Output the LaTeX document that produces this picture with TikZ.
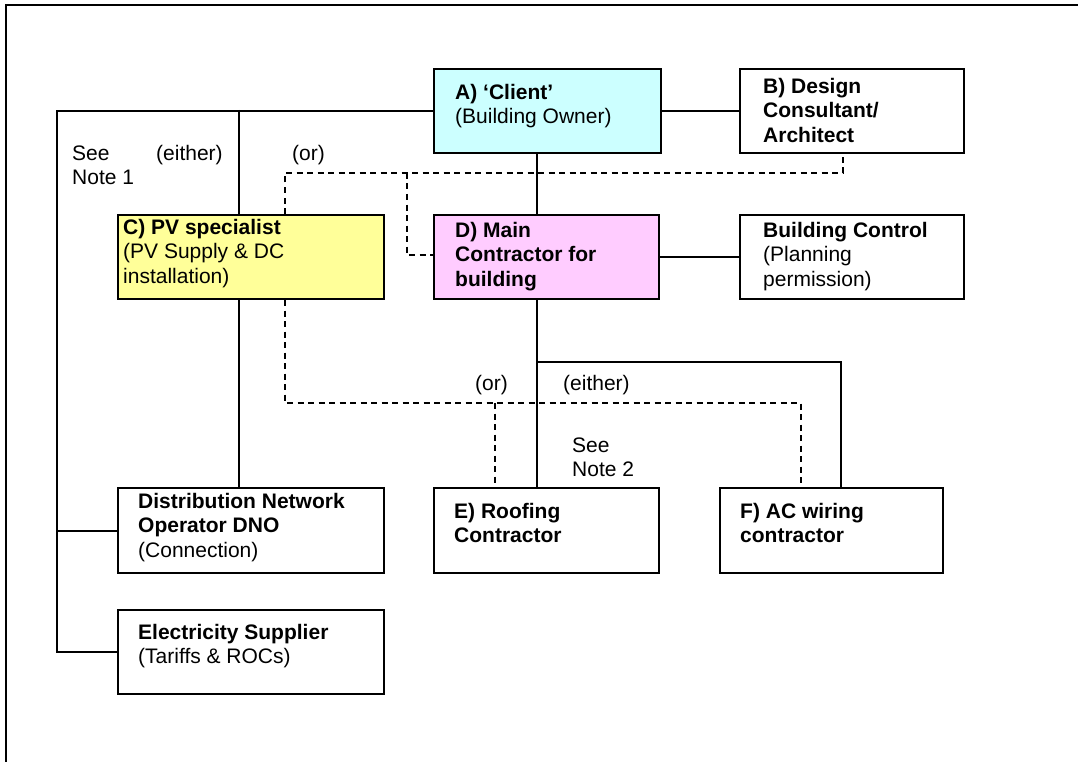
\documentclass[tikz,border=0pt]{standalone}
\usepackage{fontspec}
\setmainfont{Liberation Sans}
\definecolor{clientc}{HTML}{CCFFFF}
\definecolor{pvc}{HTML}{FFFF99}
\definecolor{mainc}{HTML}{FFCCFF}
\begin{document}
\begin{tikzpicture}[x=1pt,y=-1pt,
  box/.style={draw, line width=2.2pt, inner sep=0pt, anchor=north west},
  txt/.style={anchor=north west, inner sep=0pt, align=left, font=\fontsize{21}{24.5}\selectfont},
  conn/.style={line width=1.8pt},
  dconn/.style={line width=1.8pt, dash pattern=on 6pt off 4.5pt}]
\useasboundingbox (0,0) rectangle (1078,762);
% outer frame
\draw[line width=2pt] (5.5,762) -- (5.5,5) -- (1078,5);
% boxes
\node[box, fill=clientc, minimum width=227pt, minimum height=84pt] (A) at (433,68) {};
\node[box, minimum width=224pt, minimum height=84pt] (B) at (739,68) {};
\node[box, fill=pvc, minimum width=266pt, minimum height=84pt] (C) at (117,214) {};
\node[box, fill=mainc, minimum width=225pt, minimum height=84pt] (D) at (433,214) {};
\node[box, minimum width=224pt, minimum height=84pt] (BC) at (739,214) {};
\node[box, minimum width=266pt, minimum height=85pt] (DNO) at (117,487) {};
\node[box, minimum width=225pt, minimum height=85pt] (E) at (433,487) {};
\node[box, minimum width=223pt, minimum height=85pt] (F) at (719,487) {};
\node[box, minimum width=266pt, minimum height=84pt] (ES) at (117,609) {};
% box texts (top = first baseline - 17)
\node[txt] (At) at (455,82) {\rule{0pt}{17pt}\textbf{A) ‘Client’}\\(Building Owner)};
\node[txt] (Bt) at (763,76) {\rule{0pt}{17pt}\textbf{B) Design}\\\textbf{Consultant/}\\\textbf{Architect}};
\node[txt] (Ct) at (123,217) {\rule{0pt}{17pt}\textbf{C) PV specialist}\\(PV Supply \& DC\\installation)};
\node[txt] (Dt) at (455,220) {\rule{0pt}{17pt}\textbf{D) Main}\\\textbf{Contractor for}\\\textbf{building}};
\node[txt] (BCt) at (763,220) {\rule{0pt}{17pt}\textbf{Building Control}\\(Planning\\permission)};
\node[txt] (DNOt) at (138,491) {\rule{0pt}{17pt}\textbf{Distribution Network}\\\textbf{Operator DNO}\\(Connection)};
\node[txt] (Et) at (454,501) {\rule{0pt}{17pt}\textbf{E) Roofing}\\\textbf{Contractor}};
\node[txt] (Ft) at (740,501) {\rule{0pt}{17pt}\textbf{F) AC wiring}\\\textbf{contractor}};
\node[txt] (ESt) at (138,622) {\rule{0pt}{17pt}\textbf{Electricity Supplier}\\(Tariffs \& ROCs)};
% labels
\node[txt] (n1) at (72,143) {\rule{0pt}{17pt}See\\Note 1};
\node[txt] (ei1) at (156,143) {\rule{0pt}{17pt}(either)};
\node[txt] (or1) at (292,143) {\rule{0pt}{17pt}(or)};
\node[txt] (or2) at (475,373) {\rule{0pt}{17pt}(or)};
\node[txt] (ei2) at (563,373) {\rule{0pt}{17pt}(either)};
\node[txt] (n2) at (572,435) {\rule{0pt}{17pt}See\\Note 2};
% helper coordinates
\coordinate (lft) at (57,110);
\coordinate (v1) at (239,110);
\coordinate (v2) at (537,0);
\coordinate (h1) at (841,362);
\coordinate (d1) at (285,173);
\coordinate (d2) at (843,173);
\coordinate (d3) at (407,173);
\coordinate (d4) at (407,255);
\coordinate (e1) at (285,403);
\coordinate (e2) at (801,403);
\coordinate (e3) at (495,403);
% solid connectors
\draw[conn] (A.west) -| (lft |- ES.west) -- (ES.west);
\draw[conn] (lft |- DNO.west) -- (DNO.west);
\draw[conn] (v1) -- (v1 |- C.north);
\draw[conn] (v1 |- C.south) -- (v1 |- DNO.north);
\draw[conn] (A.east) -- (B.west);
\draw[conn] (v2 |- A.south) -- (v2 |- D.north);
\draw[conn] (D.east) -- (BC.west);
\draw[conn] (v2 |- D.south) -- (v2 |- E.north);
\draw[conn] (v2 |- h1) -- (h1) -- (h1 |- F.north);
% dashed connectors
\draw[dconn] (d1 |- C.north) -- (d1) -- (d2) -- (d2 |- B.south);
\draw[dconn] (d3) -- (d4) -- (d4 -| D.west);
\draw[dconn] (e1 |- C.south) -- (e1) -- (e2) -- (e2 |- F.north);
\draw[dconn] (e3) -- (e3 |- E.north);
\end{tikzpicture}
\end{document}
